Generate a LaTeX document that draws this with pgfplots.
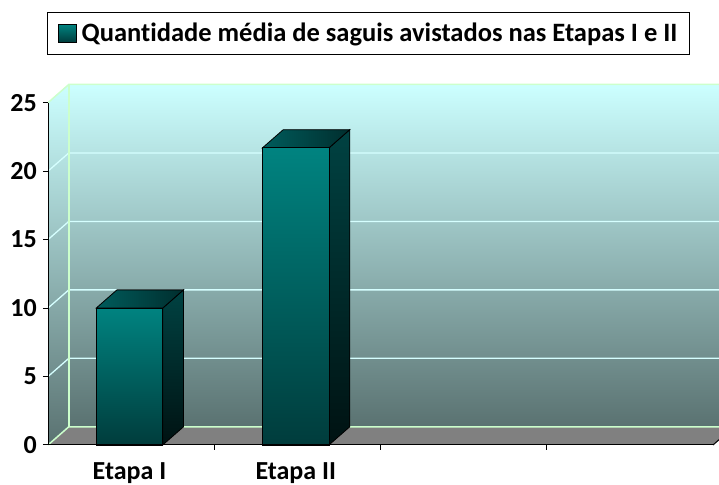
\documentclass[border=0pt]{standalone}
\usepackage{pgfplots}
\pgfplotsset{compat=1.18}
\usepackage{fontspec}
\setmainfont{Carlito}[Ligatures={NoCommon}]
\definecolor{walltop}{HTML}{CCFFFF}
\definecolor{wallbot}{HTML}{5A7271}
\definecolor{gridc}{HTML}{D6FFFF}
\definecolor{edgec}{HTML}{CCFFCC}
\definecolor{floorc}{HTML}{808080}
\definecolor{fronttop}{HTML}{008380}
\definecolor{frontbot}{HTML}{003C3C}
\definecolor{sidetop}{HTML}{004242}
\definecolor{sidebot}{HTML}{001212}
\definecolor{topl}{HTML}{005C5C}
\definecolor{topr}{HTML}{002E2E}
\begin{document}
\begin{tikzpicture}[x=1bp,y=1bp]
\path[use as bounding box] (0,0) rectangle (719,485);
\begin{axis}[
  at={(48bp,40bp)}, anchor=south west,
  scale only axis, width=665bp, height=342.3bp,
  xmin=0, xmax=4, ymin=0, ymax=25,
  clip=false, axis on top, no markers,
  axis lines*=left,
  axis line style={black, line width=1bp},
  tick align=outside,
  major tick length=5bp,
  every tick/.style={black, line width=1bp},
  ytick={0,5,10,15,20,25},
  xtick={1,2,3}, xticklabels={},
  extra x ticks={0.49,1.49},
  extra x tick labels={Etapa I, Etapa II},
  extra x tick style={tick style={draw=none}, xticklabel style={yshift=-9bp}},
  ticklabel style={font=\fontsize{26bp}{30bp}\selectfont\bfseries},
  /pgf/number format/assume math mode=true,
  yticklabel style={inner sep=0pt, xshift=-6bp},
  legend style={at={(0.482,1.2025)}, anchor=center, draw=black, line width=1.2bp,
    font=\fontsize{26.5bp}{30bp}\selectfont\bfseries, inner xsep=10bp, inner ysep=9bp},
  legend cell align=left,
]
% left side wall
\fill[top color=walltop, bottom color=wallbot] (axis cs:0,0) -- (axis cs:0.125,1.33) -- (axis cs:0.125,26.33) -- (axis cs:0,25) -- cycle;
% back wall
\fill[top color=walltop, bottom color=wallbot] (axis cs:0.125,1.33) rectangle (axis cs:4.3,26.33);
% floor
\fill[floorc] (axis cs:0,0) -- (axis cs:0.125,1.33) -- (axis cs:4.125,1.33) -- (axis cs:4,0) -- cycle;
% grid lines
\draw[gridc, line width=1.3bp] (axis cs:0,5) -- (axis cs:0.125,6.33) -- (axis cs:4.3,6.33);
\draw[gridc, line width=1.3bp] (axis cs:0,10) -- (axis cs:0.125,11.33) -- (axis cs:4.3,11.33);
\draw[gridc, line width=1.3bp] (axis cs:0,15) -- (axis cs:0.125,16.33) -- (axis cs:4.3,16.33);
\draw[gridc, line width=1.3bp] (axis cs:0,20) -- (axis cs:0.125,21.33) -- (axis cs:4.3,21.33);
% wall edges
\draw[edgec, line width=1.5bp] (axis cs:0,0) -- (axis cs:0.125,1.33) -- (axis cs:4.3,1.33);
\draw[edgec, line width=1.5bp] (axis cs:0,25) -- (axis cs:0.125,26.33) -- (axis cs:4.3,26.33);
\draw[edgec, line width=1.5bp] (axis cs:0.125,1.33) -- (axis cs:0.125,26.33);
\draw[black, line width=1bp] (axis cs:4,0) -- (axis cs:4.125,1.33);
% Bar I
\addplot[forget plot, draw=black, line width=0.8bp, top color=sidetop, bottom color=sidebot]
  coordinates {(0.69,0) (0.815,1.33) (0.815,11.33) (0.69,10)} -- cycle;
\addplot[forget plot, draw=black, line width=0.8bp, left color=topl, right color=topr]
  coordinates {(0.29,10) (0.69,10) (0.815,11.33) (0.415,11.33)} -- cycle;
\addplot[ybar, bar width=0.4, draw=black, line width=0.8bp, top color=fronttop, bottom color=frontbot,
  legend image code/.code={\draw[black, line width=0.8bp, top color=fronttop, bottom color=frontbot] (0bp,-9bp) rectangle (18bp,9bp); \path (21bp,0bp);}]
  coordinates {(0.49,10)};
\addlegendentry{Quantidade média de saguis avistados nas Etapas I e II}
% Bar II
\addplot[forget plot, draw=black, line width=0.8bp, top color=sidetop, bottom color=sidebot]
  coordinates {(1.69,0) (1.815,1.33) (1.815,23.03) (1.69,21.7)} -- cycle;
\addplot[forget plot, draw=black, line width=0.8bp, left color=topl, right color=topr]
  coordinates {(1.29,21.7) (1.69,21.7) (1.815,23.03) (1.415,23.03)} -- cycle;
\addplot[forget plot, ybar, bar width=0.4, draw=black, line width=0.8bp, top color=fronttop, bottom color=frontbot]
  coordinates {(1.49,21.7)};
\end{axis}
\end{tikzpicture}
\end{document}
